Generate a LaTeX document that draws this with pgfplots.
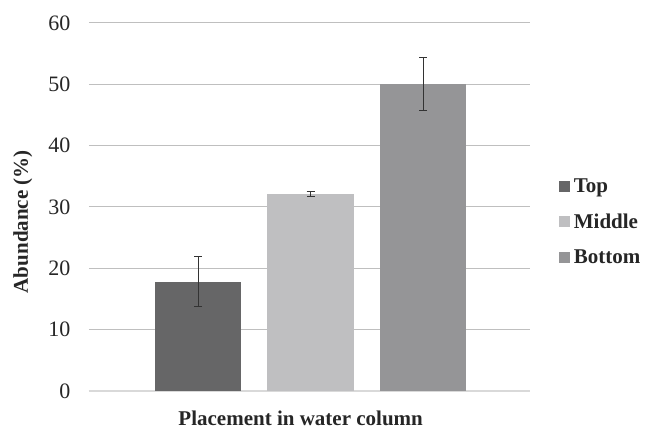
\documentclass[border=0pt]{standalone}
\usepackage{pgfplots}
\pgfplotsset{compat=1.18}
\usepackage{fontspec}
\setmainfont{Liberation Serif}
\definecolor{cTop}{HTML}{666667}
\definecolor{cMid}{HTML}{BFBFC1}
\definecolor{cBot}{HTML}{959597}
\definecolor{grid}{HTML}{D9D9D9}
\begin{document}
\begin{tikzpicture}
\begin{axis}[
  at={(0,0)}, anchor=south west,
  scale only axis,
  width=441bp, height=368bp,
  ybar, bar width=0.77, bar shift=0pt,
  xmin=0.03, xmax=3.95,
  ymin=0, ymax=60,
  ytick={0,10,...,60},
  xtick=\empty,
  ymajorgrids,
  grid style={grid, line width=1bp},
  axis line style={draw=none},
  axis x line*=bottom,
  x axis line style={draw=grid, line width=1.2bp},
  y axis line style={draw=none},
  major tick length=0pt,
  tick label style={font=\fontsize{22bp}{26bp}\selectfont, text=black!85},
  /pgf/number format/assume math mode=true,
  yticklabel style={xshift=-15bp},
  xlabel={\textbf{Placement in water column}},
  ylabel={\textbf{Abundance (\%)}},
  label style={font=\fontsize{21bp}{25bp}\selectfont, text=black!85},
  xlabel style={at={(rel axis cs:0.48,0)}, anchor=center, yshift=-27bp},
  ylabel style={at={(rel axis cs:-0.15,0.46)}, anchor=center},
  legend style={at={(rel axis cs:1.065,0.46)}, anchor=west, draw=none,
    font=\fontsize{21bp}{25bp}\selectfont\bfseries, text=black!85,
    row sep=16bp, inner sep=0pt,
    nodes={inner xsep=4bp}},
  legend cell align=left,
  legend image code/.code={\fill[#1] (0bp,-5.5bp) rectangle (11bp,5.5bp);},
  error bars/y dir=both, error bars/y explicit,
  error bars/error bar style={line width=1bp, black!80},
  error bars/error mark options={rotate=90, mark size=4bp, line width=1bp, black!80},
  clip=false,
]
\addplot[fill=cTop, draw=none] coordinates {(1,17.8) +- (0,4.05)};
\addlegendentry{Top}
\addplot[fill=cMid, draw=none] coordinates {(2,32.1) +- (0,0.35)};
\addlegendentry{Middle}
\addplot[fill=cBot, draw=none] coordinates {(3,50.0) +- (0,4.3)};
\addlegendentry{Bottom}
\end{axis}
\path[use as bounding box] (-89bp,-36bp) rectangle (562bp,391bp);
\end{tikzpicture}
\end{document}
